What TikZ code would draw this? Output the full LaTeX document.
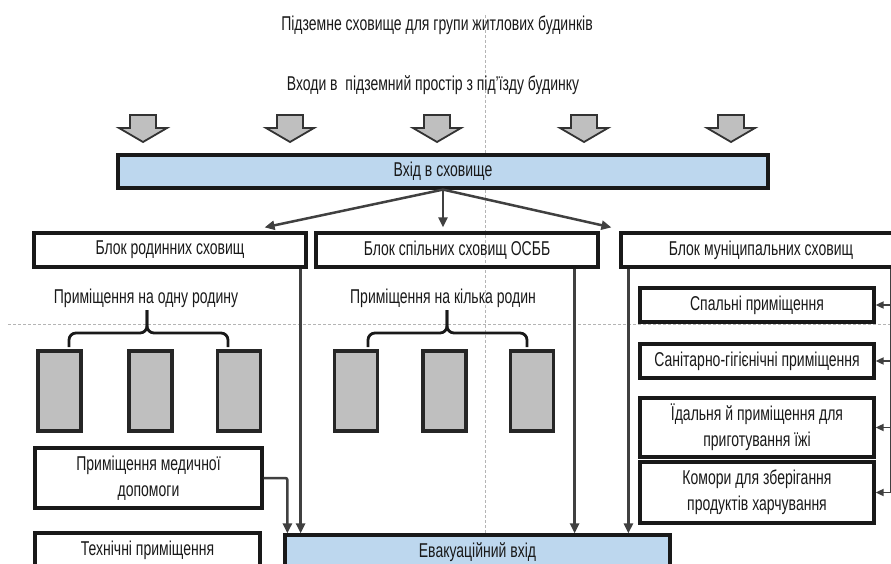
\documentclass[tikz,border=0pt]{standalone}
\usepackage{fontspec}
\setmainfont[FakeStretch=0.7]{Liberation Sans}
\usepackage{tikz}
\usetikzlibrary{arrows.meta}
\usepackage{xcolor}
\definecolor{boxblue}{HTML}{BDD7EE}
\definecolor{roomgray}{HTML}{BFBFBF}
\definecolor{linegray}{HTML}{404040}
\definecolor{guidegray}{HTML}{B4B4B4}

\begin{document}
\begin{tikzpicture}[x=1pt,y=-1pt,font=\fontsize{20}{26}\selectfont,text=black!90,
	block/.style={draw=black!90,line width=3.2pt,inner sep=0pt,align=center,minimum height=34pt},
	blue block/.style={block,fill=boxblue},
	room/.style={draw=black!85,line width=3.2pt,fill=roomgray,minimum width=43pt,minimum height=80pt,inner sep=0pt},
	conn/.style={draw=linegray,line width=2.5pt,-{Triangle[length=10pt,width=9pt]}},
	side conn/.style={draw=linegray,line width=1.7pt,-{Triangle[length=8pt,width=7pt]}},
	brace line/.style={draw=black!90,line width=2.8pt,rounded corners=7pt},
	door arrow/.style={draw=black!80,line width=1.8pt,fill=roomgray,line join=miter},
	guide/.style={draw=guidegray,line width=0.7pt,dash pattern=on 3pt off 2pt}]
	
	\clip (0,0) rectangle (891,564);
	\useasboundingbox (0,0) rectangle (891,564);
	
	% guides
	\draw[guide] (485,15) -- (485,564);
	\draw[guide] (8,324) -- (891,324);
	
	\node (title) at (437,25) {Підземне сховище для групи житлових будинків};
	\node (inputs) at (433,85) {Входи в~ підземний простір з під'їзду будинку};
	
	% entrances from the houses
	\foreach \x in {143,290,437,584,731}
	\draw[door arrow] (\x-13,115) -- (\x+13,115) -- (\x+13,128) -- (\x+24,128)
	-- (\x,142) -- (\x-24,128) -- (\x-13,128) -- cycle;
	
	\node[blue block,minimum width=650pt,minimum height=33pt] (entry) at (443,171.5) {Вхід в сховище};
	
	\node[block,minimum width=272pt] (famblock) at (170,250) {Блок родинних сховищ};
	\node[block,minimum width=282pt] (osbbblock) at (457,250) {Блок спільних сховищ ОСББ};
	\node[block,minimum width=280pt] (munblock) at (761,250) {Блок муніципальних сховищ};
	
	\node (famlabel) at (146,298) {Приміщення на одну родину};
	\node (osbblabel) at (443,298) {Приміщення на кілька родин};
	
	\node[room] (fr1) at (59.5,391) {};
	\node[room] (fr2) at (150.5,391) {};
	\node[room] (fr3) at (239,391) {};
	\node[room] (cr1) at (356,391) {};
	\node[room] (cr2) at (444.5,391) {};
	\node[room] (cr3) at (532,391) {};
	
	\draw[brace line] (69,347) |- (147,333) -- (147,310);
	\draw[brace line] (228,347) |- (147,333) -- (147,310);
	\draw[brace line] (368,347) |- (447,333) -- (447,310);
	\draw[brace line] (527,347) |- (447,333) -- (447,310);
	
	\node[block,minimum width=234pt] (sleep) at (757,305) {Спальні приміщення};
	\node[block,minimum width=234pt] (sanit) at (757,361) {Санітарно-гігієнічні приміщення};
	\node[block,minimum width=234pt,minimum height=59pt] (dining) at (757,427.5) {Їдальня й приміщення для\\приготування їжі};
	\node[block,minimum width=234pt,minimum height=61pt] (store) at (757,492.5) {Комори для зберігання\\продуктів харчування};
	
	\node[block,minimum width=227pt,minimum height=60pt] (med) at (148.5,478) {Приміщення медичної\\допомоги};
	\node[block,minimum width=225pt] (tech) at (147.5,550) {Технічні приміщення};
	\node[blue block,minimum width=385pt] (evac) at (477.5,552) {Евакуаційний вхід};
	
	% from the entry to the blocks
	\coordinate (famtop) at ([xshift=-43pt,yshift=4pt]famblock.north east);
	\coordinate (osbbtop) at ([xshift=-18pt,yshift=4pt]osbbblock.north);
	\coordinate (muntop) at ([xshift=-8pt,yshift=4pt]munblock.north west);
	\draw[conn] (entry.south) -- (famtop);
	\draw[conn] (entry.south) -- (entry.south |- osbbtop);
	\draw[conn] (entry.south) -- (muntop);
	
	% down to the evacuation exit
	\coordinate (fdown) at ([xshift=-7pt]famblock.south east);
	\coordinate (odown) at ([xshift=-25pt]osbbblock.south east);
	\coordinate (mdown) at ([xshift=9pt]munblock.south west);
	\draw[conn] (fdown) -- (fdown |- evac.north);
	\draw[conn] (odown) -- (odown |- evac.north);
	\draw[conn] (mdown) -- (mdown |- evac.north);
	\draw[conn,rounded corners=2pt] (med.east) -| ([xshift=4pt]evac.north west);
	
	% municipal rooms
	\coordinate (rline) at ([xshift=-12pt]munblock.south east);
	\draw[draw=linegray,line width=1.7pt] (rline) -- (rline |- store.east);
	\foreach \n in {sleep,sanit,dining,store}
	\draw[side conn] (rline |- \n.east) -- (\n.east);
\end{tikzpicture}
\end{document}
